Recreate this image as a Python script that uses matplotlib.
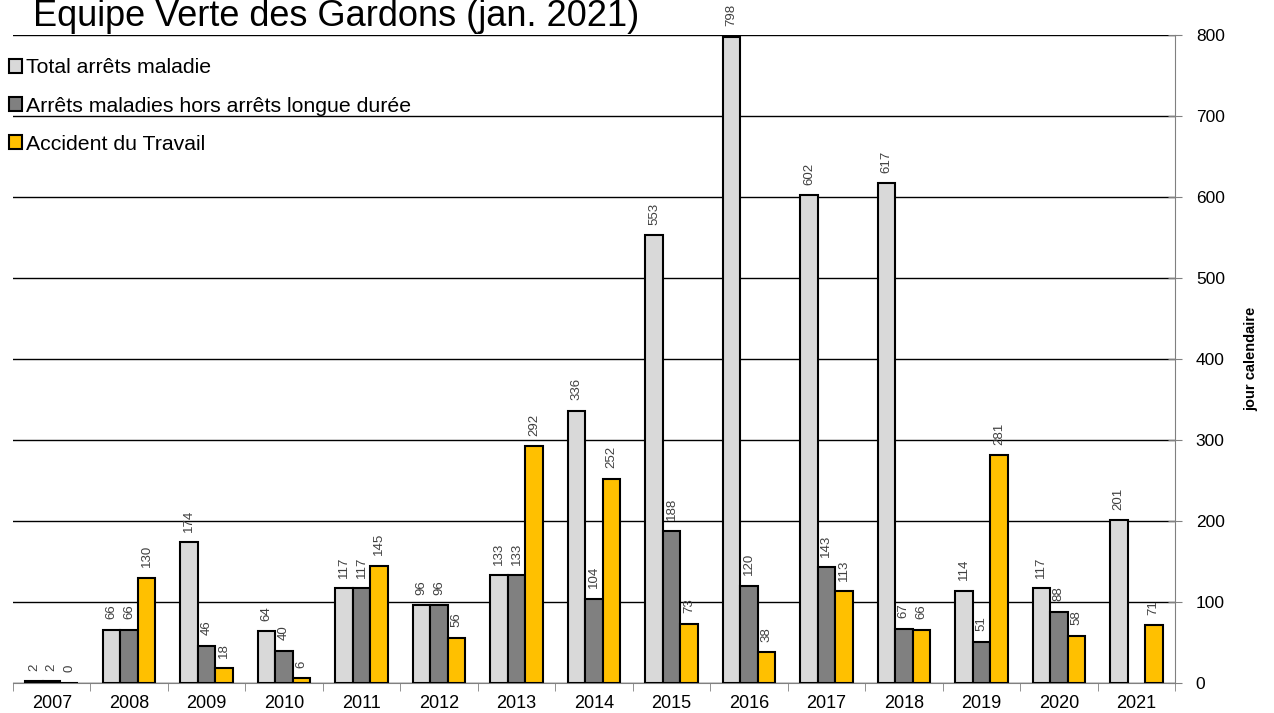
import numpy as np
import matplotlib
matplotlib.use("Agg")
import matplotlib.pyplot as plt

plt.rcParams['font.family'] = ['Liberation Sans', 'DejaVu Sans']

years = ['2007', '2008', '2009', '2010', '2011', '2012', '2013', '2014',
         '2015', '2016', '2017', '2018', '2019', '2020', '2021']
total = [2, 66, 174, 64, 117, 96, 133, 336, 553, 798, 602, 617, 114, 117, 201]
hors_longue = [2, 66, 46, 40, 117, 96, 133, 104, 188, 120, 143, 67, 51, 88, None]
accident = [0, 130, 18, 6, 145, 56, 292, 252, 73, 38, 113, 66, 281, 58, 71]

series = [
    ('Total arrêts maladie', total, '#d9d9d9'),
    ('Arrêts maladies hors arrêts longue durée', hors_longue, '#808080'),
    ('Accident du Travail', accident, '#ffc000'),
]

fig = plt.figure(figsize=(12.74, 7.13), dpi=100)
ax = fig.add_axes([13 / 1274, 1 - 683 / 713, (1175 - 13) / 1274, (683 - 35) / 713])

x = np.arange(len(years))
w = 0.226
for i, (name, vals, col) in enumerate(series):
    xs = [xi + (i - 1) * w for xi, v in zip(x, vals) if v is not None]
    vs = [v for v in vals if v is not None]
    ax.bar(xs, vs, w, color=col, edgecolor='black', linewidth=1.5, label=name, zorder=3)
    for xx, v in zip(xs, vs):
        ax.text(xx, v + 13, str(v), rotation=90, ha='center', va='bottom',
                fontsize=9.5, color='#404040', zorder=4)

ax.set_xlim(-0.5, len(years) - 0.5)
ax.set_ylim(0, 800)
ax.yaxis.tick_right()
ax.yaxis.set_label_position('right')
ax.set_yticks(range(0, 801, 100))
ax.tick_params(axis='y', direction='inout', length=10, labelsize=12.5, pad=10, color='#808080')
ax.set_ylabel('jour calendaire', fontsize=10.5, fontweight='bold', labelpad=14)
ax.yaxis.grid(True, color='black', linewidth=1, zorder=0)

ax.set_xticks(x)
ax.set_xticklabels(years, fontsize=13)
ax.set_xticks(np.arange(-0.5, len(years)), minor=True)
ax.tick_params(axis='x', which='major', length=0, pad=9)
ax.tick_params(axis='x', which='minor', length=6, color='#808080')

for s in ['top', 'left']:
    ax.spines[s].set_visible(False)
ax.spines['right'].set_color('#808080')
ax.spines['bottom'].set_color('#808080')

leg = ax.legend(loc='upper left', bbox_to_anchor=(-0.0105, 0.977), frameon=False,
                fontsize=15.3, handlelength=0.6, handleheight=0.6, handletextpad=0.2,
                labelspacing=0.9, borderaxespad=0)

fig.text(33 / 1274, 1 - 17 / 713, 'Equipe Verte des Gardons (jan. 2021)', fontsize=26,
         ha='left', va='center')

fig.savefig('out.png', dpi=100)
